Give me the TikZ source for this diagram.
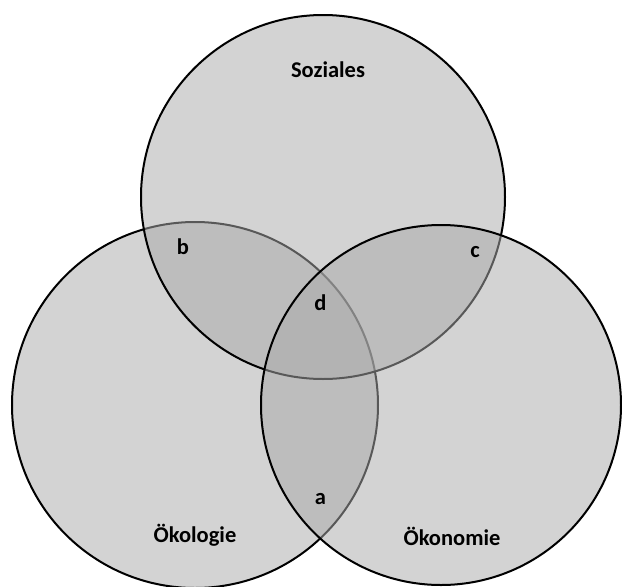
\documentclass[tikz,border=0pt]{standalone}
\usepackage{fontspec}
\setmainfont{Carlito}
\usetikzlibrary{positioning}
\definecolor{vennfill}{gray}{0.667}
\tikzstyle{venn} = [circle, draw=black, line width=2pt, fill=vennfill, fill opacity=0.52, text opacity=1]
\tikzstyle{setname} = [anchor=base, inner sep=0pt, font=\fontsize{22.5}{27}\selectfont\bfseries]
\tikzstyle{areaname} = [anchor=base, inner sep=0pt, font=\fontsize{22.5}{27}\selectfont\bfseries]

\begin{document}
\begin{tikzpicture}[x=1pt, y=-1pt]
	\useasboundingbox (0,0) rectangle (622,587);
	\node (oeko) [venn, minimum size=366pt] at (195,405) {};
	\node (soz) [venn, minimum size=364pt] at (323,197) {};
	\node (oekon) [venn, minimum size=360pt] at (441,405) {};

	\node (sozname) [setname] at (328,77.5) {Soziales};
	\node (oekoname) [setname] at (195,542) {Ökologie};
	\node (oekonname) [setname] at (452,545) {Ökonomie};

	\node (b) [areaname] at (183,254.5) {b};
	\node (c) [areaname] at (475,257.5) {c};
	\node (d) [areaname] at (320.5,310.5) {d};
	\node (a) [areaname] at (320.5,504) {a};
\end{tikzpicture}
\end{document}
